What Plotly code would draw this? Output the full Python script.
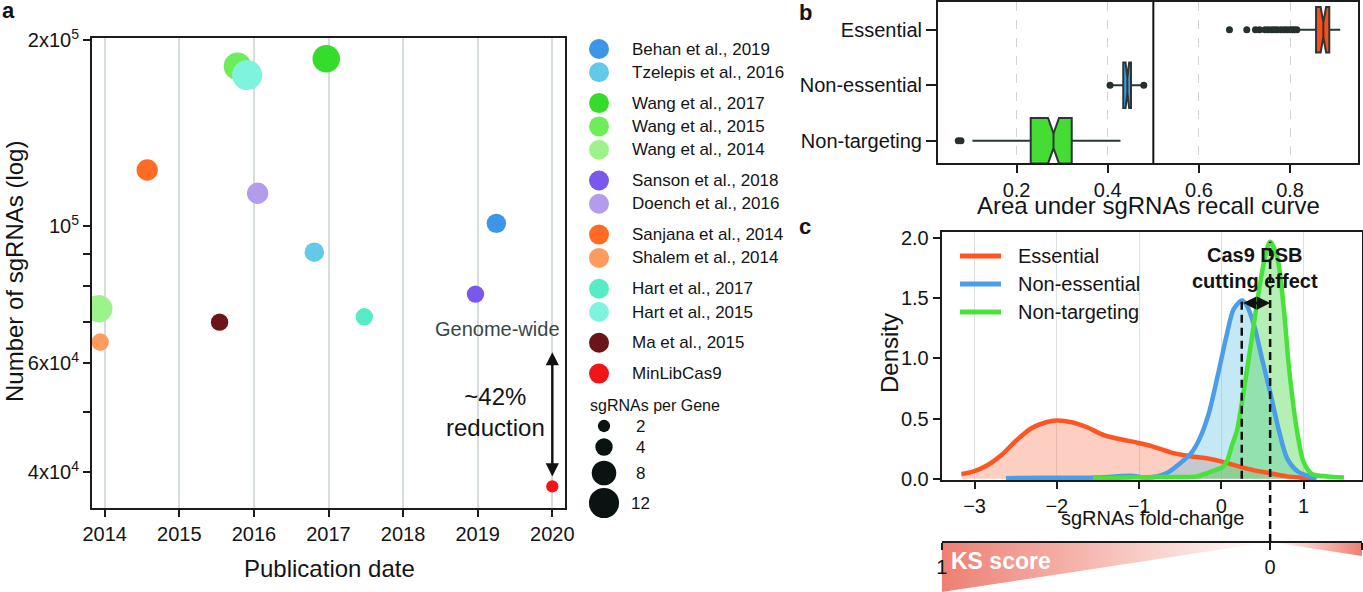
import math
import plotly.graph_objects as go

W, H = 1363, 592
FONT = "Liberation Sans, Arial, Helvetica, sans-serif"
INK = "#141414"
FRAME = "#1c1c1c"


def fx(px):
    return px / W


def fy(py):
    return 1 - py / H


# ---------------- panel a : libraries ----------------
studies = ["Behan et al., 2019", "Tzelepis et al., 2016", "Wang et al., 2017",
           "Wang et al., 2015", "Wang et al., 2014", "Sanson et al., 2018",
           "Doench et al., 2016", "Sanjana et al., 2014", "Shalem et al., 2014",
           "Hart et al., 2017", "Hart et al., 2015", "Ma et al., 2015", "MinLibCas9"]
study_group_sizes = [2, 3, 2, 2, 2, 1, 1]
pub_date = [2019.25, 2016.81, 2016.97, 2015.78, 2013.92, 2018.97, 2016.05,
            2014.57, 2013.94, 2017.48, 2015.91, 2015.54, 2020.0]
n_sgrnas = [101000, 90700, 186500, 181300, 73500, 77600, 113000,
            123200, 64900, 71300, 175500, 69900, 37900]
sgrnas_per_gene = [5, 5, 10, 10, 10, 4, 6, 6, 4, 4, 12, 4, 2]
study_colors = ["#3D95E8", "#63C9E6", "#35DC2C", "#6DEE58", "#9DF28B", "#7A58EE",
                "#B39CEC", "#FF6B25", "#FF9B5F", "#55ECC6", "#80F3DF", "#6B1518", "#EE1717"]
legend_sizes = [2, 4, 8, 12]
genome_wide = 65000
reduction_label = "~42%<br>reduction"
year_ticks = [2014, 2015, 2016, 2017, 2018, 2019, 2020]
y_major = [40000, 60000, 100000, 200000]
y_major_text = ["4x10<sup>4</sup>", "6x10<sup>4</sup>", "10<sup>5</sup>", "2x10<sup>5</sup>"]
y_minor = [50000, 70000, 80000, 90000]

# ---------------- panel b : AUC box plots ----------------
auc_groups = ["Non-targeting", "Non-essential", "Essential"]
auc_q1 = [0.231, 0.434, 0.857]
auc_median = [0.281, 0.443, 0.873]
auc_q3 = [0.321, 0.451, 0.886]
auc_lowerfence = [0.103, 0.405, 0.822]
auc_upperfence = [0.428, 0.479, 0.910]
auc_notchspan = [0.012, 0.004, 0.006]
auc_colors = ["#45DD33", "#3C9FE6", "#FF4D17"]
nt_outliers = [0.072, 0.078]
ne_outliers = [0.405, 0.479]
ess_outliers = [0.667, 0.705, 0.724, 0.733, 0.745, 0.752, 0.760, 0.766, 0.772,
                0.780, 0.787, 0.793, 0.800, 0.805, 0.810, 0.815]
random_auc = 0.5

# ---------------- panel c : fold-change densities ----------------
ess_fc = [-3.16, -3.02, -2.84, -2.67, -2.49, -2.31, -2.13, -2.0, -1.82, -1.64, -1.42,
          -1.24, -1.02, -0.84, -0.62, -0.4, -0.18, 0.02, 0.2, 0.4, 0.56, 0.8, 1.0, 1.15]
ess_density = [0.04, 0.06, 0.115, 0.2, 0.32, 0.42, 0.47, 0.485, 0.47, 0.43, 0.36,
               0.33, 0.30, 0.27, 0.22, 0.19, 0.17, 0.14, 0.105, 0.07, 0.05, 0.02, 0.008, 0.0]
ne_fc = [-2.62, -2.13, -1.5, -1.11, -0.89, -0.67, -0.5, -0.36, -0.26, -0.15, -0.04,
         0.06, 0.15, 0.248, 0.31, 0.4, 0.5, 0.6, 0.7, 0.8, 0.93, 1.07, 1.16]
ne_density = [0.005, 0.008, 0.01, 0.025, 0.01, 0.045, 0.13, 0.22, 0.34, 0.55, 0.87,
              1.18, 1.41, 1.48, 1.44, 1.27, 0.98, 0.7, 0.4, 0.17, 0.06, 0.02, 0.005]
nt_fc = [-1.56, -0.8, -0.44, -0.3, -0.1, 0.02, 0.07, 0.13, 0.19, 0.27, 0.36, 0.44,
         0.53, 0.593, 0.68, 0.76, 0.82, 0.91, 1.0, 1.1, 1.29, 1.49]
nt_density = [0.005, 0.015, 0.015, 0.02, 0.065, 0.1, 0.15, 0.28, 0.4, 0.72, 1.12, 1.49,
              1.84, 1.97, 1.84, 1.41, 0.94, 0.44, 0.14, 0.04, 0.02, 0.01]
dens_names = ["Essential", "Non-essential", "Non-targeting"]
dens_colors = ["#FF5522", "#4A9DE6", "#48E23A"]
dens_fills = ["rgba(248,110,70,0.33)", "rgba(95,190,228,0.36)", "rgba(70,215,70,0.40)"]

# KS score profile along fold-change (1 far left, 0 at the non-targeting mode)
ks_fc = [-3.4, 0.593, 1.71]
ks_score = [1.0, 0.0, 0.28]

fig = go.Figure()

# ---- panel a points
fig.add_trace(go.Scatter(
    x=pub_date, y=n_sgrnas, mode="markers", text=studies, hoverinfo="text",
    marker=dict(size=[8.7 * math.sqrt(n) for n in sgrnas_per_gene], color=study_colors,
                line=dict(width=0), opacity=1),
    xaxis="x", yaxis="y", showlegend=False, cliponaxis=True))

# ---- panel a manual legend (pixel-unit helper axes)
row_y = []
yy = 49.0
for g in study_group_sizes:
    for _ in range(g):
        row_y.append(yy)
        yy += 23.3
    yy += 7.5
fig.add_trace(go.Scatter(
    x=[599] * len(studies), y=row_y, mode="markers",
    marker=dict(size=20, color=study_colors, line=dict(width=0)),
    xaxis="x5", yaxis="y5", showlegend=False, hoverinfo="skip"))
size_rows = [426, 447, 473, 503]
fig.add_trace(go.Scatter(
    x=[604] * len(legend_sizes), y=size_rows, mode="markers",
    marker=dict(size=[8.7 * math.sqrt(n) for n in legend_sizes], color="#0A1212",
                line=dict(width=0), opacity=1),
    xaxis="x5", yaxis="y5", showlegend=False, hoverinfo="skip"))

# ---- panel b boxes
pos = list(range(len(auc_groups)))
for i in pos:
    fig.add_trace(go.Box(
        y=[i], q1=[auc_q1[i]], median=[auc_median[i]], q3=[auc_q3[i]],
        lowerfence=[auc_lowerfence[i]], upperfence=[auc_upperfence[i]],
        notchspan=[auc_notchspan[i]], notched=True, notchwidth=0.34,
        orientation="h", width=0.82, whiskerwidth=0,
        fillcolor=auc_colors[i], line=dict(color="#2B3636", width=2),
        boxpoints=False, xaxis="x2", yaxis="y2", showlegend=False))
for i, outs in zip(pos, [nt_outliers, ne_outliers, ess_outliers]):
    fig.add_trace(go.Scatter(
        x=outs, y=[i] * len(outs), mode="markers",
        marker=dict(size=7, color="#26302F"), xaxis="x2", yaxis="y2",
        showlegend=False))

# ---- panel c densities (fills first, lines on top)
dens_x = [ess_fc, ne_fc, nt_fc]
dens_y = [ess_density, ne_density, nt_density]
for xs, ys, fc in zip(dens_x, dens_y, dens_fills):
    fig.add_trace(go.Scatter(
        x=xs, y=ys, mode="lines", fill="tozeroy", fillcolor=fc,
        line=dict(width=0, shape="spline", smoothing=0.8),
        xaxis="x3", yaxis="y3", showlegend=False, hoverinfo="skip"))
for xs, ys, col, nm in zip(dens_x, dens_y, dens_colors, dens_names):
    fig.add_trace(go.Scatter(
        x=xs, y=ys, mode="lines", name=nm,
        line=dict(width=4.5, color=col, shape="spline", smoothing=0.8),
        xaxis="x3", yaxis="y3", showlegend=False))

# ---- KS score bar
fig.add_trace(go.Scatter(
    x=[ks_fc[0]] + ks_fc + [ks_fc[-1]], y=[0] + ks_score + [0],
    mode="lines", fill="toself", line=dict(width=0),
    fillgradient=dict(type="horizontal", start=ks_fc[0], stop=ks_fc[-1],
                      colorscale=[[0, "#EE7F72"],
                                  [(ks_fc[1] - ks_fc[0]) / (ks_fc[-1] - ks_fc[0]), "#FFFFFF"],
                                  [1, "#EE7F72"]]),
    xaxis="x4", yaxis="y4", showlegend=False, hoverinfo="skip"))

# ---------------- layout ----------------
tickfont = dict(family=FONT, size=20, color=INK)
common = dict(showline=True, linecolor=FRAME, linewidth=2, ticks="outside",
              tickcolor=FRAME, tickwidth=1.5, tickfont=tickfont, zeroline=False,
              automargin=False)

ne_mode = ne_fc[ne_density.index(max(ne_density))]
ne_peak = max(ne_density)
nt_mode = nt_fc[nt_density.index(max(nt_density))]
nt_peak = max(nt_density)

c_range = [-0.01, 2.05]
c_dom = [fy(480), fy(232)]


def c_paper(v):
    return c_dom[0] + (v - c_range[0]) / (c_range[1] - c_range[0]) * (c_dom[1] - c_dom[0])


fig.update_layout(
    width=W, height=H, margin=dict(l=0, r=0, t=0, b=0, pad=0), autosize=False,
    paper_bgcolor="white", plot_bgcolor="white",
    font=dict(family=FONT, color=INK), showlegend=False,
    xaxis=dict(domain=[fx(92), fx(565)], anchor="y", range=[2013.83, 2020.17],
               tickvals=year_ticks, ticklen=7, mirror=True, showgrid=True,
               gridcolor="#D5DDDD", gridwidth=1.6, **common),
    yaxis=dict(domain=[fy(508), fy(38)], anchor="x", type="log",
               range=[math.log10(34970), math.log10(201500)],
               tickvals=y_major, ticktext=y_major_text, ticklen=7, mirror=True,
               showgrid=False,
               minor=dict(tickmode="array", tickvals=y_minor, ticks="outside",
                          ticklen=7, tickcolor=FRAME, tickwidth=1.5, showgrid=False),
               **common),
    xaxis2=dict(domain=[fx(938), fx(1358)], anchor="y2", range=[0.0276, 0.949],
                tickvals=[0.2, 0.4, 0.6, 0.8], ticklen=8, mirror=True, showgrid=True,
                gridcolor="#CDD6D6", gridwidth=1, griddash="dash", **common),
    yaxis2=dict(domain=[fy(163), fy(2)], anchor="x2", range=[-0.4, 2.5],
                tickvals=pos, ticktext=auc_groups, ticklen=10, mirror=True,
                showgrid=False, **common),
    xaxis3=dict(domain=[fx(941.7), fx(1362)], anchor="y3", range=[-3.4, 1.71],
                tickvals=[-3, -2, -1, 0, 1], ticktext=["\u22123", "\u22122", "\u22121", "0", "1"],
                ticklen=7, mirror=True, showgrid=True, gridcolor="#DCE2E2", gridwidth=1,
                **common),
    yaxis3=dict(domain=c_dom, anchor="x3", range=c_range,
                tickvals=[0, 0.5, 1, 1.5, 2], tickformat=".1f", ticklen=7, mirror=True,
                showgrid=False, **common),
    xaxis4=dict(domain=[fx(941.7), fx(1362)], anchor="free", position=fy(542),
                range=[-3.4, 1.71], tickvals=ks_fc, ticktext=["1", "0", ""],
                ticklen=7, showgrid=False, **common),
    yaxis4=dict(domain=[0, fy(542)], anchor="x4", range=[1, 0], visible=False,
                automargin=False),
    xaxis5=dict(domain=[fx(575), fx(800)], anchor="y5", range=[575, 800], visible=False,
                automargin=False),
    yaxis5=dict(domain=[0, 1], anchor="x5", range=[592, 0], visible=False,
                automargin=False),
)

shapes = [
    # 10^5 gridline
    dict(type="line", xref="x domain", yref="y", x0=0, x1=1,
         y0=math.log10(100000), y1=math.log10(100000),
         line=dict(color="#D5DDDD", width=1.6), layer="below"),
    # genome-wide line
    dict(type="line", xref="x domain", yref="y", x0=0, x1=1,
         y0=math.log10(genome_wide), y1=math.log10(genome_wide),
         line=dict(color="#2E3C3C", width=2.5), layer="below"),
    # AUC = 0.5
    dict(type="line", xref="x2", yref="y2 domain", x0=random_auc, x1=random_auc,
         y0=0, y1=1, line=dict(color="#111111", width=2)),
    # non-essential mode
    dict(type="line", xref="x3", yref="y3", x0=ne_mode, x1=ne_mode, y0=0, y1=ne_peak,
         line=dict(color="#111111", width=2.5, dash="8px,5px")),
    # non-targeting mode, down to the KS bar
    dict(type="line", xref="x3", yref="paper", x0=nt_mode, x1=nt_mode,
         y0=fy(542), y1=c_paper(nt_peak),
         line=dict(color="#111111", width=2.5, dash="8px,5px")),
]
for k, (col, ypx) in enumerate(zip(dens_colors, [256, 284, 312])):
    shapes.append(dict(type="line", xref="paper", yref="paper", x0=fx(960), x1=fx(1001),
                       y0=fy(ypx), y1=fy(ypx), line=dict(color=col, width=5)))
fig.update_layout(shapes=shapes)


def txt(text, x, y, size, xref="paper", yref="paper", xanchor="center",
        yanchor="middle", color=INK, **kw):
    return dict(text=text, x=x, y=y, xref=xref, yref=yref, xanchor=xanchor,
                yanchor=yanchor, showarrow=False,
                font=dict(size=size, family=FONT, color=color), **kw)


ann = []
# panel letters
for letter, (px, py) in zip("abc", [(8, 11), (805, 13), (805, 226)]):
    ann.append(txt(f"<b>{letter}</b>", fx(px), fy(py), 22))
# axis titles
ann += [
    txt("Publication date", fx(329), fy(568), 24),
    txt("Number of sgRNAs (log)", fx(14), fy(272), 24, textangle=-90),
    txt("Area under sgRNAs recall curve", fx(1148), fy(205), 24),
    txt("Density", fx(889), fy(353), 24, textangle=-90),
    txt("sgRNAs fold-change", fx(1152), fy(518), 20),
]
# panel a annotations
ann += [
    txt("Genome-wide", 1, math.log10(genome_wide), 20, xref="x domain", yref="y",
        xanchor="right", yanchor="bottom", xshift=-3, color="#36474A"),
    txt(reduction_label, 2019.24, math.log10(50000), 24, xref="x", yref="y"),
    dict(text="", x=pub_date[-1], y=math.log10(n_sgrnas[-1]), ax=pub_date[-1],
         ay=math.log10(genome_wide), xref="x", yref="y", axref="x", ayref="y",
         showarrow=True, arrowhead=2, startarrowhead=2, arrowside="end+start",
         arrowsize=1.1, startarrowsize=1.1, arrowwidth=2.4, arrowcolor="#111111",
         standoff=10, startstandoff=9),
]
# panel a legend text
for name, ypx in zip(studies, row_y):
    ann.append(txt(name, 630, ypx, 17, xref="x5", yref="y5", xanchor="left"))
ann.append(txt("sgRNAs per Gene", 588, 405, 16, xref="x5", yref="y5", xanchor="left"))
for n, ypx in zip(legend_sizes, size_rows):
    ann.append(txt(str(n), 640, ypx, 17, xref="x5", yref="y5"))
# panel c annotations
ann += [
    txt("<b>Cas9 DSB<br>cutting effect</b>", 0.41, 1.755, 20, xref="x3", yref="y3"),
    dict(text="", x=nt_mode, y=ne_peak - 0.02, ax=ne_mode, ay=ne_peak - 0.02,
         xref="x3", yref="y3", axref="x3", ayref="y3", showarrow=True,
         arrowhead=2, startarrowhead=2, arrowside="end+start", arrowsize=1.1,
         startarrowsize=1.1, arrowwidth=2.4, arrowcolor="#111111", standoff=0,
         startstandoff=0),
    txt("<b>KS score</b>", fx(949), fy(561), 23, xanchor="left", color="white"),
]
for nm, ypx in zip(dens_names, [256, 284, 312]):
    ann.append(txt(nm, fx(1016), fy(ypx), 20, xanchor="left"))
fig.update_layout(annotations=ann)

fig.write_html(
    "out.html",
    config={"displayModeBar": False},
    post_script="document.body.style.margin='0px';document.body.style.overflow='hidden';")
